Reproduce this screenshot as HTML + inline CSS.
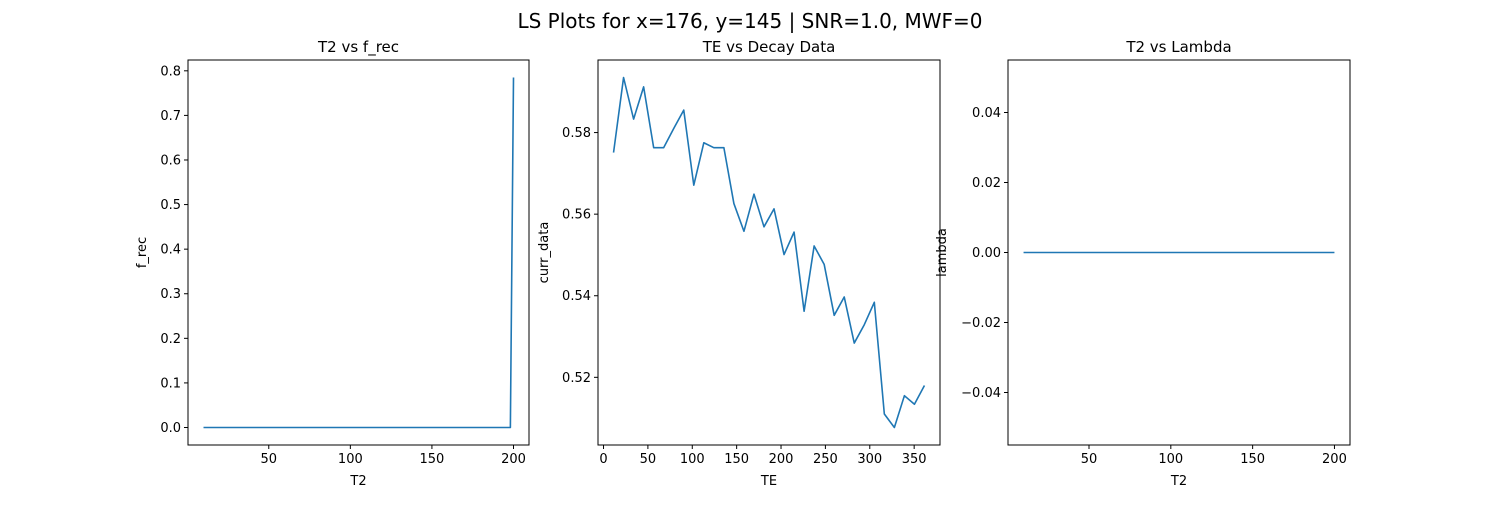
<!DOCTYPE html>
<html><head><meta charset="utf-8"><style>
body{margin:0;background:#fff}
svg text{font-family:"DejaVu Sans","Liberation Sans",sans-serif;fill:#000}
</style></head><body>
<svg id="fig" width="1500" height="500" xmlns="http://www.w3.org/2000/svg">
<text x="750" y="28" text-anchor="middle" font-size="20">LS Plots for x=176, y=145 | SNR=1.0, MWF=0</text>
</svg>
<script>
// Left chart data
const frecT2Start = 10, frecT2End = 200, frecN = 100;
const frecPeak = 0.785;
const frecXTicks = [50, 100, 150, 200];
const frecYTicks = [0.0, 0.1, 0.2, 0.3, 0.4, 0.5, 0.6, 0.7, 0.8];
// Middle chart data
const teValues = [11.3,22.6,33.9,45.2,56.5,67.8,79.1,90.4,101.7,113,124.3,135.6,146.9,158.2,169.5,180.8,192.1,203.4,214.7,226,237.3,248.6,259.9,271.2,282.5,293.8,305.1,316.4,327.7,339,350.3,361.6];
const decayValues = [0.5751,0.5935,0.5833,0.5912,0.5763,0.5763,0.5810,0.5855,0.5671,0.5775,0.5763,0.5763,0.5626,0.5558,0.5649,0.5569,0.5613,0.5501,0.5556,0.5362,0.5522,0.5477,0.5352,0.5397,0.5284,0.5329,0.5384,0.5110,0.5077,0.5155,0.5134,0.5180];
const teXTicks = [0, 50, 100, 150, 200, 250, 300, 350];
const decayYTicks = [0.52, 0.54, 0.56, 0.58];
// Right chart data
const lambdaT2 = [10, 200];
const lambdaValues = [0, 0];
const lambdaXTicks = [50, 100, 150, 200];
const lambdaYTicks = [-0.04, -0.02, 0.00, 0.02, 0.04];

const NS = 'http://www.w3.org/2000/svg';
const fig = document.getElementById('fig');
function mk(tag, attrs, parent){const e=document.createElementNS(NS,tag);for(const k in attrs)e.setAttribute(k,attrs[k]);(parent||fig).appendChild(e);return e;}

function panel(name, box, xd, yd, xt, yt, xfmt, yfmt, xs, ys, title, xlabel, ylabel, ylabX){
  const g = mk('g',{});
  
  
  const [L,T,R,B]=box;
  const sx=v=>L+(v-xd[0])/(xd[1]-xd[0])*(R-L);
  const sy=v=>B-(v-yd[0])/(yd[1]-yd[0])*(B-T);
  let d='';
  xs.forEach((x,i)=>{d+=(i?'L':'M')+sx(x).toFixed(2)+' '+sy(ys[i]).toFixed(2);});
  const line=mk('path',{d:d,fill:'none',stroke:'#1f77b4','stroke-width':1.6,'stroke-linejoin':'round'},g);
  
  
  const fr=mk('rect',{x:L,y:T,width:R-L,height:B-T,fill:'none',stroke:'#000','stroke-width':1},g);
  
  
  xt.forEach(v=>{const x=sx(v);mk('line',{x1:x,x2:x,y1:B,y2:B+4,stroke:'#000'},g);
    const t=mk('text',{x:x,y:B+18,'text-anchor':'middle','font-size':13},g);t.textContent=xfmt(v);
    
    });
  yt.forEach(v=>{const y=sy(v);mk('line',{x1:L-4,x2:L,y1:y,y2:y,stroke:'#000'},g);
    const t=mk('text',{x:L-7,y:y+4.5,'text-anchor':'end','font-size':13},g);t.textContent=yfmt(v);
    
    });
  const tt=mk('text',{x:(L+R)/2,y:T-8,'text-anchor':'middle','font-size':15},g);tt.textContent=title;
  
  
  const xl=mk('text',{x:(L+R)/2,y:B+40,'text-anchor':'middle','font-size':13},g);xl.textContent=xlabel;
  
  
  const yl=mk('text',{x:ylabX,y:(T+B)/2,'text-anchor':'middle','font-size':13,transform:`rotate(-90 ${ylabX} ${(T+B)/2})`},g);yl.textContent=ylabel;
  
  
}
// left data arrays
const frecT2=[], frecVals=[];
for(let i=0;i<frecN;i++){frecT2.push(frecT2Start+(frecT2End-frecT2Start)*i/(frecN-1));frecVals.push(i===frecN-1?frecPeak:0);}
const pad=(a,b)=>[a-(b-a)*0.05,b+(b-a)*0.05];
panel('frec-panel',[188,60,529,445],pad(10,200),pad(0,frecPeak),frecXTicks,frecYTicks,v=>String(v),v=>v.toFixed(1),frecT2,frecVals,'T2 vs f_rec','T2','f_rec',146);
panel('decay-panel',[598,60,940,445],pad(Math.min(...teValues),Math.max(...teValues)),pad(Math.min(...decayValues),Math.max(...decayValues)),teXTicks,decayYTicks,v=>String(v),v=>v.toFixed(2),teValues,decayValues,'TE vs Decay Data','TE','curr_data',548);
panel('lambda-panel',[1008,60,1350,445],pad(10,200),[-0.055,0.055],lambdaXTicks,lambdaYTicks,v=>String(v),v=>v.toFixed(2).replace('-','\u2212'),lambdaT2,lambdaValues,'T2 vs Lambda','T2','lambda',946);
</script>
</body></html>
